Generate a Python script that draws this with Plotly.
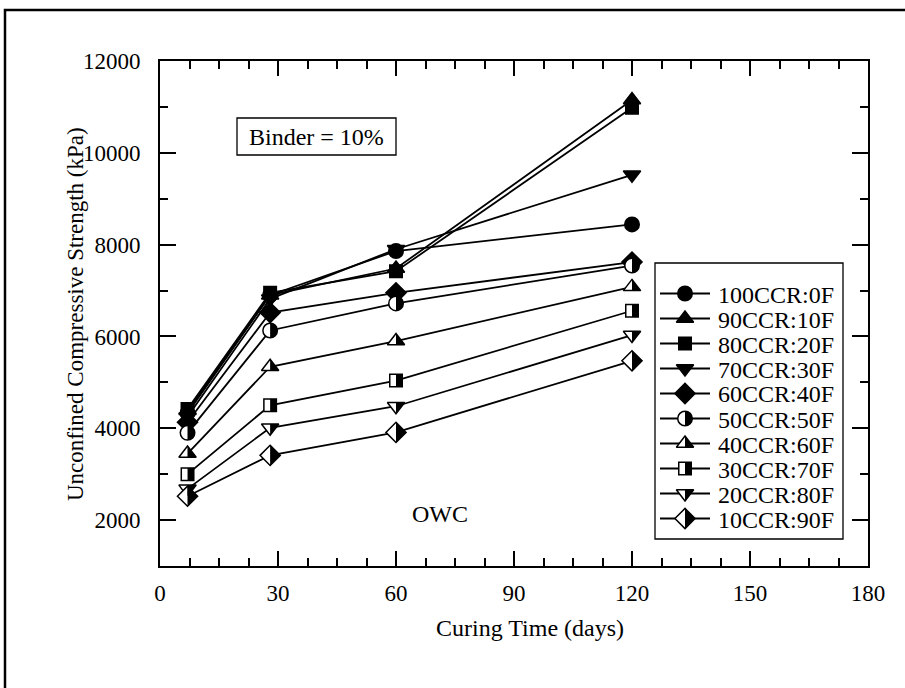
import numpy as np
import plotly.graph_objects as go

# ---------------- data ----------------
days = [7, 28, 60, 120]
ccr100 = [4330, 6900, 7860, 8440]
ccr90 = [4380, 6900, 7480, 11150]
ccr80 = [4420, 6950, 7420, 10980]
ccr70 = [4250, 6820, 7900, 9520]
ccr60 = [4130, 6520, 6950, 7620]
ccr50 = [3900, 6130, 6720, 7545]
ccr40 = [3450, 5340, 5900, 7080]
ccr30 = [3000, 4500, 5040, 6560]
ccr20 = [2680, 4010, 4480, 6030]
ccr10 = [2520, 3410, 3910, 5470]

series_names = ["100CCR:0F", "90CCR:10F", "80CCR:20F", "70CCR:30F", "60CCR:40F",
                "50CCR:50F", "40CCR:60F", "30CCR:70F", "20CCR:80F", "10CCR:90F"]
series_values = [ccr100, ccr90, ccr80, ccr70, ccr60, ccr50, ccr40, ccr30, ccr20, ccr10]
series_symbols = ["circle", "triangle-up", "square", "triangle-down", "diamond",
                  "circle", "triangle-up", "square", "triangle-down", "diamond"]
series_half = [False] * 5 + [True] * 5

x_ticks = [0, 30, 60, 90, 120, 150, 180]
y_ticks = [2000, 4000, 6000, 8000, 10000, 12000]

# ---------------- style ----------------
FONT = "Liberation Serif"
FS = 24
FS_TICK = 23
W, H = 905, 688
L, R, T, B = 160, 868, 61, 566
sizes = {"circle": 14.5, "triangle-up": 15, "triangle-down": 15, "square": 12.5, "diamond": 15.5}
LW = 1.8
MLW = 1.5


def px(xp):
    return (xp - L) / (R - L)


def py(yp):
    return (B - yp) / (B - T)


def half_path(sym, size):
    r = size / 2.0
    if sym == "circle":
        pts = [(r * np.sin(t), r * np.cos(t)) for t in np.linspace(0, np.pi, 19)]
    elif sym == "triangle-up":
        rt = 2 * r / np.sqrt(3)
        pts = [(0, r), (rt, -r / 2), (0, -r / 2)]
    elif sym == "triangle-down":
        rt = 2 * r / np.sqrt(3)
        pts = [(0, -r), (rt, r / 2), (0, r / 2)]
    elif sym == "square":
        pts = [(0, r), (r, r), (r, -r), (0, -r)]
    else:  # diamond
        rd = 1.3 * r
        pts = [(0, rd), (rd, 0), (0, -rd)]
    return "M" + "L".join(f"{x:.2f},{y:.2f}" for x, y in pts) + "Z"


fig = go.Figure()
shapes = []
annotations = []

for name, vals, sym, half in zip(series_names, series_values, series_symbols, series_half):
    size = sizes[sym]
    fig.add_trace(go.Scatter(
        x=days, y=vals, mode="lines+markers", name=name, showlegend=False,
        line=dict(color="black", width=LW),
        marker=dict(symbol=sym, size=size, color="white" if half else "black",
                    line=dict(color="black", width=MLW)),
    ))
    if half:
        for d, v in zip(days, vals):
            shapes.append(dict(type="path", xref="x", yref="y", xsizemode="pixel", ysizemode="pixel",
                               xanchor=d, yanchor=v, path=half_path(sym, size),
                               fillcolor="black", line=dict(width=0), layer="above"))

# ---------------- manual legend ----------------
leg_x0, leg_x1, leg_y0, leg_y1 = 655, 843, 263, 539
shapes.append(dict(type="rect", xref="paper", yref="paper", x0=px(leg_x0), x1=px(leg_x1),
                   y0=py(leg_y1), y1=py(leg_y0), line=dict(color="black", width=1.3),
                   fillcolor="white", layer="below"))
first_y, step = 293.5, 25.0
for i, (name, sym, half) in enumerate(zip(series_names, series_symbols, series_half)):
    yc = first_y + i * step
    size = sizes[sym]
    shapes.append(dict(type="line", xref="paper", yref="paper", x0=px(660), x1=px(710),
                       y0=py(yc), y1=py(yc), line=dict(color="black", width=LW), layer="below"))
    fig.add_trace(go.Scatter(
        x=[px(685)], y=[py(yc)], xaxis="x2", yaxis="y2", mode="markers", showlegend=False,
        marker=dict(symbol=sym, size=size, color="white" if half else "black",
                    line=dict(color="black", width=MLW)), hoverinfo="skip"))
    if half:
        shapes.append(dict(type="path", xref="x2", yref="y2", xsizemode="pixel", ysizemode="pixel",
                           xanchor=px(685), yanchor=py(yc), path=half_path(sym, size),
                           fillcolor="black", line=dict(width=0), layer="above"))
    annotations.append(dict(xref="paper", yref="paper", x=px(716), y=py(yc + 1), text=name,
                            showarrow=False, xanchor="left", yanchor="middle",
                            font=dict(family=FONT, size=FS, color="black")))

# ---------------- boxes / text ----------------
shapes.append(dict(type="rect", xref="paper", yref="paper", x0=px(237), x1=px(396),
                   y0=py(155), y1=py(118), line=dict(color="black", width=1.3),
                   fillcolor="white", layer="below"))
annotations.append(dict(xref="paper", yref="paper", x=px(316.5), y=py(137), text="Binder = 10%",
                        showarrow=False, xanchor="center", yanchor="middle",
                        font=dict(family=FONT, size=FS, color="black")))
annotations.append(dict(xref="paper", yref="paper", x=px(440), y=py(514), text="OWC",
                        showarrow=False, xanchor="center", yanchor="middle",
                        font=dict(family=FONT, size=FS, color="black")))
annotations.append(dict(xref="paper", yref="paper", x=px(530), y=py(628), text="Curing Time (days)",
                        showarrow=False, xanchor="center", yanchor="middle",
                        font=dict(family=FONT, size=FS, color="black")))
annotations.append(dict(xref="paper", yref="paper", x=px(75), y=py(314),
                        text="Unconfined Compressive Strength (kPa)", textangle=-90,
                        showarrow=False, xanchor="center", yanchor="middle",
                        font=dict(family=FONT, size=23, color="black")))

# outer frame (extends past the right and bottom edges of the picture)
shapes.append(dict(type="rect", xref="paper", yref="paper", x0=px(5), x1=px(1000),
                   y0=py(800), y1=py(10), line=dict(color="black", width=2.5),
                   fillcolor="rgba(0,0,0,0)", layer="below"))

axis_common = dict(showline=True, linecolor="black", linewidth=2, mirror="ticks",
                   ticks="inside", tickcolor="black", tickwidth=2,
                   showgrid=False, zeroline=False, tickformat="d",
                   tickfont=dict(family=FONT, size=FS_TICK, color="black"))

fig.update_layout(
    width=W, height=H,
    margin=dict(l=L, r=W - R, t=T, b=H - B),
    paper_bgcolor="white", plot_bgcolor="white",
    showlegend=False,
    xaxis=dict(range=[0, 180], tickvals=x_ticks, ticklen=15, ticklabelstandoff=5,
               minor=dict(dtick=7.5, tick0=0, ticklen=8, tickwidth=2, ticks="inside", tickcolor="black"),
               **axis_common),
    yaxis=dict(range=[1000, 12000], tickvals=y_ticks, ticklen=16, ticklabelstandoff=13,
               minor=dict(dtick=1000, tick0=0, ticklen=8, tickwidth=2, ticks="inside", tickcolor="black"),
               **axis_common),
    xaxis2=dict(overlaying="x", range=[0, 1], visible=False, fixedrange=True),
    yaxis2=dict(overlaying="y", range=[0, 1], visible=False, fixedrange=True),
    shapes=shapes,
    annotations=annotations,
)

fig.write_html("out.html")
